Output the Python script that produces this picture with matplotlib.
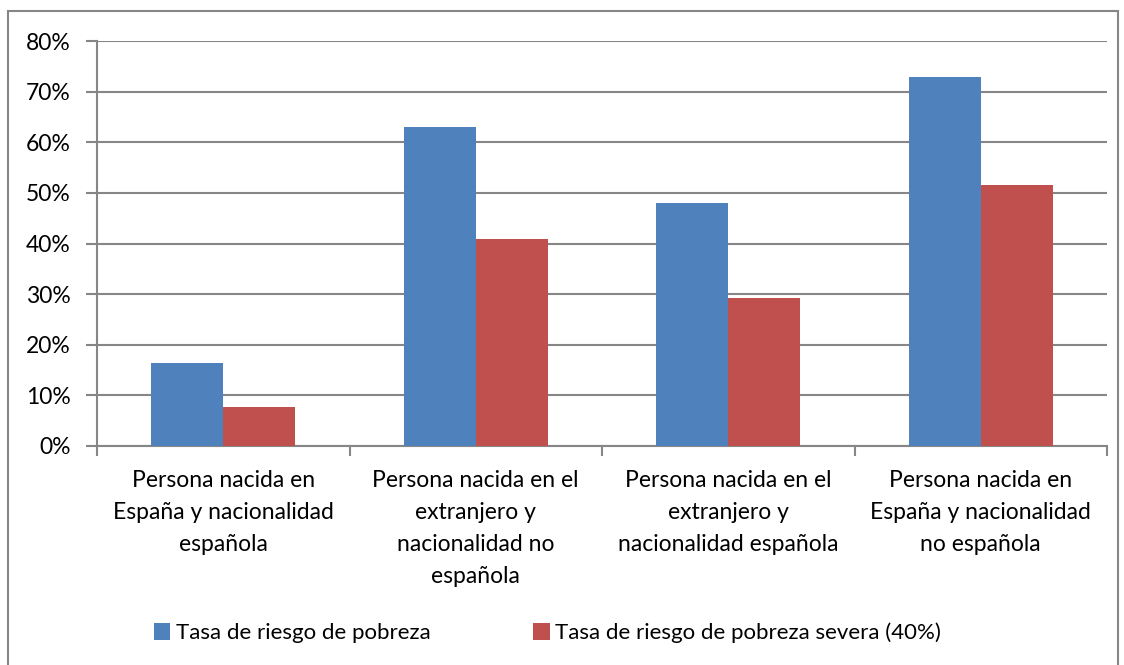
import matplotlib.pyplot as plt
import numpy as np
from matplotlib.patches import Rectangle

categorias = ['Persona nacida en\nEspaña y nacionalidad\nespañola',
              'Persona nacida en el\nextranjero y\nnacionalidad no\nespañola',
              'Persona nacida en el\nextranjero y\nnacionalidad española',
              'Persona nacida en\nEspaña y nacionalidad\nno española']
riesgo = [16.4, 63.0, 48.0, 72.9]
riesgo_severo = [7.7, 40.9, 29.2, 51.6]
series = ['Tasa de riesgo de pobreza', 'Tasa de riesgo de pobreza severa (40%)']

plt.rcParams['font.family'] = ['Lato', 'DejaVu Sans']
grey = '#868686'

fig = plt.figure(figsize=(11.24, 6.65), dpi=100)
ax = fig.add_axes([97/1124, 1-446/665, 1010/1124, 405/665])

x = np.arange(len(categorias))
w = 0.2857
ax.bar(x - w/2, riesgo, w, color='#4f81bd', label=series[0], zorder=3)
ax.bar(x + w/2, riesgo_severo, w, color='#c0504d', label=series[1], zorder=3)

ax.set_xlim(-0.5, len(categorias) - 0.5)
ax.set_ylim(0, 80)
ax.set_yticks(range(0, 81, 10))
ax.set_yticklabels([f'{v}%' for v in range(0, 81, 10)], fontsize=16.5)
ax.yaxis.grid(True, color=grey, linewidth=1.5, zorder=0)

ax.set_xticks(x)
ax.set_xticklabels(categorias, fontsize=16.5, linespacing=1.65)
ax.set_xticks(np.arange(-0.5, len(categorias)), minor=True)
ax.tick_params(axis='x', which='major', length=0, pad=17)
ax.tick_params(axis='x', which='minor', length=7, color=grey, width=1.5)
ax.tick_params(axis='y', length=8, color=grey, width=1.5, pad=11)

for s in ['top', 'right']:
    ax.spines[s].set_visible(False)
for s in ['left', 'bottom']:
    ax.spines[s].set_color(grey)
    ax.spines[s].set_linewidth(1.5)

fig.legend(loc='center', bbox_to_anchor=(0.487, 1-633/665), ncol=2, frameon=False,
           fontsize=16, handlelength=0.75, handleheight=0.75, columnspacing=4.6,
           handletextpad=0.25)

fig.patches.append(Rectangle((8/1124, -0.01), 1110/1124, 1-11/665+0.01,
                             transform=fig.transFigure, fill=False,
                             edgecolor=grey, linewidth=1.5))

fig.savefig('out.png', dpi=100)
